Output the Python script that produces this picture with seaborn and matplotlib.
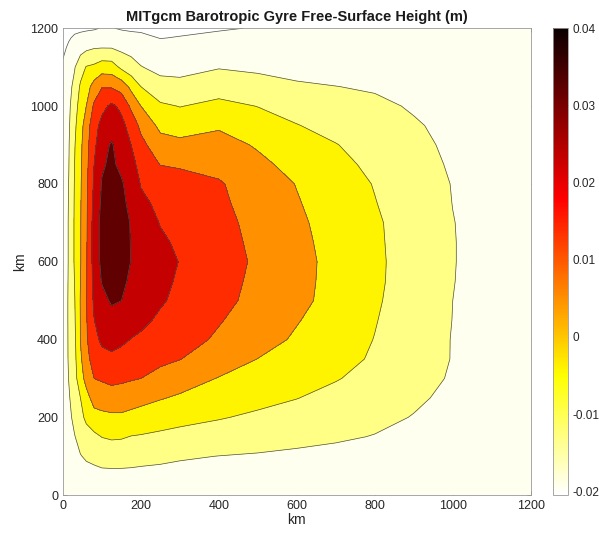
import numpy as np
import matplotlib
matplotlib.use('Agg')
import matplotlib.pyplot as plt
import matplotlib.colors as mcolors
import seaborn as sns

# grid of the free-surface field (km)
x_km = [0, 15, 30, 45, 60, 80, 100, 125, 150, 175, 200, 250, 300,
        400, 500, 600, 700, 800, 900, 1000, 1100, 1200]
y_km = [0, 50, 100, 150, 200, 250, 300, 350, 400, 450, 500, 550, 600,
        650, 700, 750, 800, 850, 900, 950, 1000, 1050, 1100, 1150, 1175, 1200]

# contour levels (m) and colorbar ticks
levels = [-0.0195, -0.013, -0.004, 0.005, 0.014, 0.023, 0.032]
cbar_ticks = [-0.02, -0.01, 0, 0.01, 0.02, 0.03, 0.04]

# free-surface height (m), one row per y_km value
eta = [
    # y = 0
    [-0.0185] * 22,
    # y = 50
    [-0.0185, -0.0165, -0.016, -0.0155, -0.0153, -0.0151, -0.015, -0.015, -0.015, -0.0151, -0.0152,
     -0.0154, -0.0156, -0.0158, -0.016, -0.0162, -0.0165, -0.017, -0.0175, -0.018, -0.0183, -0.0185],
    # y = 100
    [-0.0185, -0.0165, -0.015, -0.0133, -0.0122, -0.0113, -0.010, -0.0096, -0.0097, -0.010, -0.0106,
     -0.0113, -0.0122, -0.0131, -0.0137, -0.0145, -0.0152, -0.016, -0.0168, -0.0176, -0.0181, -0.0185],
    # y = 150
    [-0.0185, -0.016, -0.0133, -0.0106, -0.008, -0.006, -0.0038, -0.0029, -0.0032, -0.0043, -0.0047,
     -0.0057, -0.0067, -0.0082, -0.0096, -0.0108, -0.012, -0.0133, -0.0152, -0.017, -0.018, -0.0185],
    # y = 200
    [-0.0185, -0.0149, -0.011, -0.0066, -0.002, 0.0018, 0.0029, 0.0034, 0.0035, 0.0024, 0.0015,
     -0.0001, -0.0014, -0.0034, -0.0055, -0.0073, -0.0093, -0.0112, -0.0133, -0.0158, -0.0175, -0.0185],
    # y = 250
    [-0.0185, -0.0139, -0.009, -0.004, 0.0019, 0.0084, 0.0091, 0.0101, 0.0098, 0.0089, 0.0077,
     0.0056, 0.0038, 0.001, -0.0015, -0.0038, -0.0065, -0.0092, -0.0119, -0.0145, -0.0168, -0.0185],
    # y = 300
    [-0.0185, -0.0128, -0.0071, 0.0013, 0.008, 0.014, 0.015, 0.0162, 0.0155, 0.0147, 0.014,
     0.0116, 0.0092, 0.0046, 0.0019, -0.0008, -0.0035, -0.0068, -0.0104, -0.0137, -0.0163, -0.0185],
    # y = 350
    [-0.0185, -0.0122, -0.0063, 0.0034, 0.0119, 0.0169, 0.0202, 0.0214, 0.0202, 0.0188, 0.0177,
     0.0156, 0.0142, 0.0097, 0.0049, 0.0017, -0.0015, -0.0049, -0.0092, -0.0133, -0.0161, -0.0185],
    # y = 400
    [-0.0185, -0.0121, -0.0057, 0.0052, 0.0129, 0.0205, 0.0246, 0.0257, 0.0245, 0.0228, 0.0217,
     0.0195, 0.0173, 0.0128, 0.0083, 0.0039, -0.0002, -0.0042, -0.0088, -0.0133, -0.016, -0.0185],
    # y = 450
    [-0.0185, -0.012, -0.005, 0.0053, 0.0132, 0.0228, 0.0272, 0.029, 0.028, 0.0264, 0.0248,
     0.0217, 0.0192, 0.0146, 0.010, 0.0055, 0.001, -0.0036, -0.0084, -0.0131, -0.016, -0.0185],
    # y = 500
    [-0.0185, -0.012, -0.0045, 0.0055, 0.0135, 0.0245, 0.0295, 0.033, 0.032, 0.030, 0.0279,
     0.0239, 0.0211, 0.0163, 0.0116, 0.0071, 0.0022, -0.003, -0.008, -0.013, -0.016, -0.0185],
    # y = 550
    [-0.0185, -0.0122, -0.0038, 0.005, 0.0132, 0.0258, 0.0325, 0.0365, 0.0334, 0.0309, 0.0289,
     0.0251, 0.0219, 0.017, 0.0122, 0.0074, 0.0025, -0.0026, -0.0077, -0.0128, -0.016, -0.0185],
    # y = 600
    [-0.0185, -0.0124, -0.003, 0.0045, 0.0129, 0.0268, 0.034, 0.040, 0.0348, 0.0318, 0.0299,
     0.0262, 0.0227, 0.0177, 0.0127, 0.0076, 0.0026, -0.0025, -0.0076, -0.0127, -0.016, -0.0185],
    # y = 650
    [-0.0185, -0.0124, -0.003, 0.0045, 0.0127, 0.027, 0.0345, 0.040, 0.035, 0.0317, 0.029,
     0.0244, 0.0216, 0.017, 0.0122, 0.0071, 0.0022, -0.0027, -0.0077, -0.0127, -0.016, -0.0185],
    # y = 700
    [-0.0185, -0.0124, -0.003, 0.0045, 0.0124, 0.027, 0.0345, 0.0395, 0.035, 0.0315, 0.0282,
     0.0226, 0.0205, 0.0163, 0.0117, 0.0065, 0.0017, -0.0029, -0.0078, -0.0128, -0.016, -0.0185],
    # y = 750
    [-0.0185, -0.0126, -0.0032, 0.0043, 0.0122, 0.0257, 0.0335, 0.037, 0.034, 0.0299, 0.0245,
     0.0215, 0.0195, 0.0155, 0.0107, 0.0056, 0.0009, -0.0037, -0.0084, -0.0131, -0.0161, -0.0185],
    # y = 800
    [-0.0185, -0.0128, -0.0035, 0.004, 0.0119, 0.0244, 0.0325, 0.035, 0.033, 0.0282, 0.0226,
     0.0205, 0.0185, 0.0148, 0.0096, 0.0047, 0.0001, -0.0044, -0.0089, -0.0133, -0.0162, -0.0185],
    # y = 850
    [-0.0185, -0.0133, -0.004, 0.0035, 0.0113, 0.023, 0.031, 0.0335, 0.030, 0.0255, 0.0204,
     0.0137, 0.0127, 0.0115, 0.0068, 0.0025, -0.0018, -0.0058, -0.010, -0.0139, -0.0165, -0.0185],
    # y = 900
    [-0.0185, -0.0136, -0.0046, 0.003, 0.0108, 0.021, 0.0292, 0.0328, 0.0275, 0.023, 0.0165,
     0.0085, 0.0072, 0.008, 0.0042, 0.0003, -0.0037, -0.0073, -0.011, -0.0145, -0.0167, -0.0185],
    # y = 950
    [-0.0185, -0.0142, -0.0059, 0.0017, 0.0092, 0.0198, 0.0255, 0.028, 0.0255, 0.0195, 0.012,
     0.0028, 0.0013, 0.004, 0.0, -0.0037, -0.0066, -0.0095, -0.0123, -0.0148, -0.0168, -0.0185],
    # y = 1000
    [-0.0185, -0.0149, -0.0077, -0.0004, 0.005, 0.0155, 0.0207, 0.0245, 0.0211, 0.0123, 0.005,
     -0.0025, -0.0043, -0.0017, -0.0042, -0.0072, -0.0092, -0.0115, -0.0137, -0.0155, -0.0172, -0.0185],
    # y = 1050
    [-0.0185, -0.0154, -0.0109, -0.0027, 0.0013, 0.0085, 0.0135, 0.0132, 0.0104, 0.0027, -0.004,
     -0.0105, -0.011, -0.0078, -0.0098, -0.012, -0.0129, -0.0138, -0.015, -0.016, -0.0175, -0.0185],
    # y = 1100
    [-0.019, -0.0163, -0.0135, -0.0081, -0.0035, -0.0023, 0.0005, 0.0001, -0.0058, -0.0093, -0.0127,
     -0.015, -0.0152, -0.0135, -0.0145, -0.0155, -0.0162, -0.0168, -0.0174, -0.0178, -0.0182, -0.0185],
    # y = 1150
    [-0.0202, -0.019, -0.0173, -0.016, -0.0148, -0.0135, -0.0132, -0.0133, -0.0151, -0.0162, -0.0167,
     -0.0179, -0.0178, -0.0167, -0.0172, -0.0175, -0.0178, -0.018, -0.0182, -0.0183, -0.0185, -0.0186],
    # y = 1175
    [-0.0205, -0.0198, -0.019, -0.0185, -0.018, -0.0175, -0.0168, -0.017, -0.0177, -0.0183, -0.0186,
     -0.0196, -0.0193, -0.0183, -0.0185, -0.0187, -0.0188, -0.0189, -0.019, -0.019, -0.019, -0.019],
    # y = 1200
    [-0.0205, -0.0204, -0.0203, -0.0202, -0.0201, -0.0199, -0.0193, -0.0193, -0.0199, -0.0201, -0.0202,
     -0.0204, -0.0204, -0.020, -0.0192, -0.0191, -0.0191, -0.019, -0.019, -0.019, -0.019, -0.019],
]

sns.set_theme(style='ticks')
plt.rcParams['font.family'] = ['Liberation Sans', 'DejaVu Sans']

Z = np.array(eta)
cmap = plt.get_cmap('hot_r')
norm = mcolors.Normalize(vmin=Z.min(), vmax=0.04)
# each band takes the colour of its lower level, as matlab does
bounds = [Z.min() - 1e-6] + levels + [Z.max() + 1e-6]
band_colors = [cmap(norm(v)) for v in [Z.min()] + levels]

fig = plt.figure(figsize=(5.99, 5.33), dpi=100)
ax = fig.add_axes([0.105, 0.071, 0.781, 0.876])
cax = fig.add_axes([0.923, 0.071, 0.025, 0.876])

ax.contourf(x_km, y_km, Z, levels=bounds, colors=band_colors)
ax.contour(x_km, y_km, Z, levels=levels, colors='0.3', linewidths=0.5,
           linestyles='solid')

ax.set_xlim(0, 1200)
ax.set_ylim(0, 1200)
ax.set_xticks(range(0, 1201, 200))
ax.set_yticks(range(0, 1201, 200))
ax.tick_params(direction='in', length=3, width=0.5, top=True, right=True,
               labelsize=9, colors='0.45', labelcolor='0.15')
for s in ax.spines.values():
    s.set_color('0.6')
    s.set_linewidth(0.6)
ax.set_xlabel('km', fontsize=10, color='0.15', labelpad=1)
ax.set_ylabel('km', fontsize=10, color='0.15', labelpad=2)
ax.set_title('MITgcm Barotropic Gyre Free-Surface Height (m)', fontsize=10.5,
             fontweight='bold', color='0.1', pad=5)

sm = plt.cm.ScalarMappable(norm=norm, cmap=cmap)
cb = fig.colorbar(sm, cax=cax, ticks=cbar_ticks)
cb.ax.set_yticklabels([f'{t:g}' for t in cbar_ticks])
cb.ax.tick_params(direction='in', length=2, width=0.5, labelsize=8.5,
                  colors='0.45', labelcolor='0.15')
cb.outline.set_edgecolor('0.6')
cb.outline.set_linewidth(0.6)

fig.savefig('out.png', dpi=100, facecolor='white')
